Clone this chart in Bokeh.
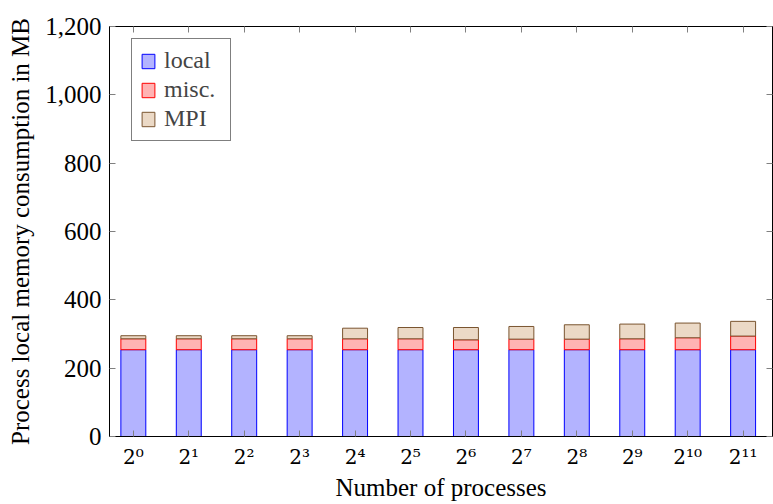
from bokeh.plotting import figure
from bokeh.models import (Range1d, LinearAxis, FixedTicker, NumeralTickFormatter, Legend)
from bokeh.embed import file_html
from bokeh.resources import INLINE

# Data (MB)
procs = ["2⁰", "2¹", "2²", "2³", "2⁴", "2⁵", "2⁶", "2⁷", "2⁸", "2⁹", "2¹⁰", "2¹¹"]
local = [254, 254, 254, 254, 254, 254, 254, 254, 254, 254, 254, 254]
misc = [32, 32, 32, 32, 32, 32, 29, 31, 31, 32, 35, 40]
mpi = [9, 9, 9, 9, 31, 33, 36, 37, 42, 43, 43, 43]
y_ticks = [0, 200, 400, 600, 800, 1000, 1200]

FONT = "Liberation Serif"
xs = list(range(len(procs)))

p = figure(width=773, height=504, output_backend="svg", toolbar_location=None,
           x_range=Range1d(-0.43, 11.53), y_range=Range1d(0, 1200),
           min_border_left=109, min_border_right=1, min_border_top=26, min_border_bottom=68)

src = dict(x=xs, local=local, misc=misc, mpi=mpi)
rs = p.vbar_stack(["local", "misc", "mpi"], x="x", width=0.45, source=src,
                  fill_color=["#b3b3ff", "#ffb3b3", "#ebd9c6"],
                  line_color=["#0000ff", "#ff0000", "#7a5530"], line_width=1)

p.xgrid.visible = False
p.ygrid.visible = False
p.outline_line_color = "black"
p.outline_line_width = 1
p.background_fill_color = "white"
p.border_fill_color = "white"

xa = p.xaxis[0]
xa.ticker = FixedTicker(ticks=xs)
xa.major_label_overrides = {i: s for i, s in enumerate(procs)}
xa.major_label_text_font = "DejaVu Serif"
xa.major_label_text_font_size = "20px"
xa.major_label_text_color = "black"
xa.axis_label = "Number of processes"
ya = p.yaxis[0]
ya.ticker = FixedTicker(ticks=y_ticks)
ya.formatter = NumeralTickFormatter(format="0,0")
ya.axis_label = "Process local memory consumption in MB"
ya.major_label_text_font = FONT
ya.major_label_text_font_size = "25px"
ya.major_label_text_color = "black"

for ax in (xa, ya):
    ax.major_tick_in = 6
    ax.major_tick_out = 0
    ax.minor_tick_line_color = None
    ax.major_tick_line_color = "#808080"
    ax.axis_line_color = "black"
    ax.axis_label_text_font = FONT
    ax.axis_label_text_font_size = "25px"
    ax.axis_label_text_font_style = "normal"
    ax.axis_label_text_color = "black"
xa.major_label_standoff = 8
xa.axis_label_standoff = 2
ya.major_label_standoff = 8
ya.axis_label_standoff = 8

# mirrored ticks on the top and right
top = LinearAxis(ticker=FixedTicker(ticks=xs))
top.major_label_overrides = {i: "" for i in xs}
right = LinearAxis(ticker=FixedTicker(ticks=y_ticks))
right.major_label_overrides = {t: "" for t in y_ticks}
for ax in (top, right):
    ax.major_tick_in = 6
    ax.major_tick_out = 0
    ax.minor_tick_line_color = None
    ax.major_tick_line_color = "#808080"
    ax.axis_line_color = "black"
    ax.major_label_text_color = None
    ax.major_label_text_font_size = "1px"
    ax.major_label_standoff = 0
p.add_layout(top, "above")
p.add_layout(right, "right")

legend = Legend(items=[("local", [rs[0]]), ("misc.", [rs[1]]), ("MPI", [rs[2]])],
                location=(22, 295))
legend.label_text_font = FONT
legend.label_text_font_size = "24px"
legend.glyph_width = 16
legend.glyph_height = 18
legend.label_height = 20
legend.label_width = 58
legend.spacing = 2
legend.padding = 8
legend.margin = 0
legend.label_standoff = 8
legend.border_line_color = "black"
legend.border_line_width = 1
legend.background_fill_alpha = 1
p.add_layout(legend, "center")

open("out.html", "w").write(file_html(p, INLINE))
